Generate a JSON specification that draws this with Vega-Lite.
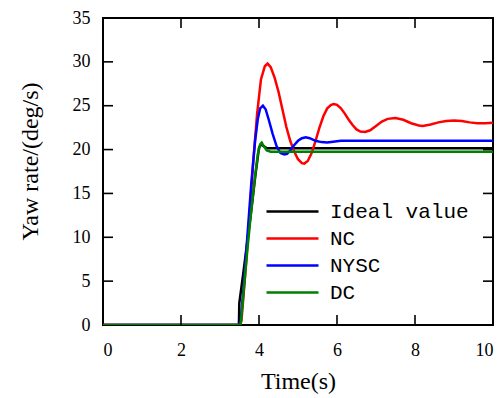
{
  "$schema": "https://vega.github.io/schema/vega-lite/v6.json",
  "width": 390,
  "height": 307,
  "autosize": {"type": "none"},
  "padding": {"left": 103, "top": 18, "right": 9, "bottom": 73},
  "background": "white",
  "config": {
    "view": {"stroke": "black", "strokeWidth": 2},
    "axis": {"domain": false, "ticks": false, "grid": false, "labelColor": "black", "titleColor": "black"}
  },
  "datasets": {
    "xticks": [{"k": 2}, {"k": 4}, {"k": 6}, {"k": 8}],
    "yticks": [{"k": 5}, {"k": 10}, {"k": 15}, {"k": 20}, {"k": 25}, {"k": 30}]
  },
  "data": {"values": [
    {"s": "Ideal value", "t": 0, "v": 0},
    {"s": "Ideal value", "t": 3.485, "v": 0},
    {"s": "Ideal value", "t": 3.495, "v": 2.5},
    {"s": "Ideal value", "t": 3.6, "v": 6},
    {"s": "Ideal value", "t": 3.7, "v": 9.5},
    {"s": "Ideal value", "t": 3.8, "v": 13},
    {"s": "Ideal value", "t": 3.9, "v": 16.8},
    {"s": "Ideal value", "t": 4.0, "v": 20.2},
    {"s": "Ideal value", "t": 4.05, "v": 20.6},
    {"s": "Ideal value", "t": 4.1, "v": 20.45},
    {"s": "Ideal value", "t": 4.2, "v": 20.15},
    {"s": "Ideal value", "t": 10, "v": 20.15},
    {"s": "NC", "t": 0, "v": 0},
    {"s": "NC", "t": 3.5, "v": 0},
    {"s": "NC", "t": 3.55, "v": 0.5},
    {"s": "NC", "t": 3.65, "v": 6},
    {"s": "NC", "t": 3.75, "v": 12},
    {"s": "NC", "t": 3.85, "v": 18.5},
    {"s": "NC", "t": 3.95, "v": 24},
    {"s": "NC", "t": 4.05, "v": 28},
    {"s": "NC", "t": 4.15, "v": 29.5},
    {"s": "NC", "t": 4.22, "v": 29.8},
    {"s": "NC", "t": 4.3, "v": 29.4},
    {"s": "NC", "t": 4.4, "v": 28.2},
    {"s": "NC", "t": 4.5, "v": 26.6},
    {"s": "NC", "t": 4.6, "v": 24.6},
    {"s": "NC", "t": 4.7, "v": 22.6},
    {"s": "NC", "t": 4.8, "v": 21.0},
    {"s": "NC", "t": 4.9, "v": 19.8},
    {"s": "NC", "t": 5.0, "v": 18.9},
    {"s": "NC", "t": 5.1, "v": 18.45},
    {"s": "NC", "t": 5.16, "v": 18.4},
    {"s": "NC", "t": 5.25, "v": 18.7},
    {"s": "NC", "t": 5.35, "v": 19.6},
    {"s": "NC", "t": 5.45, "v": 21.0},
    {"s": "NC", "t": 5.55, "v": 22.5},
    {"s": "NC", "t": 5.65, "v": 23.8},
    {"s": "NC", "t": 5.75, "v": 24.7},
    {"s": "NC", "t": 5.85, "v": 25.1},
    {"s": "NC", "t": 5.92, "v": 25.2},
    {"s": "NC", "t": 6.0, "v": 25.1},
    {"s": "NC", "t": 6.1, "v": 24.7},
    {"s": "NC", "t": 6.2, "v": 24.1},
    {"s": "NC", "t": 6.3, "v": 23.4},
    {"s": "NC", "t": 6.4, "v": 22.8},
    {"s": "NC", "t": 6.5, "v": 22.3},
    {"s": "NC", "t": 6.6, "v": 22.05},
    {"s": "NC", "t": 6.72, "v": 22.0},
    {"s": "NC", "t": 6.85, "v": 22.2},
    {"s": "NC", "t": 7.0, "v": 22.7},
    {"s": "NC", "t": 7.15, "v": 23.2},
    {"s": "NC", "t": 7.3, "v": 23.5},
    {"s": "NC", "t": 7.5, "v": 23.6},
    {"s": "NC", "t": 7.7, "v": 23.4},
    {"s": "NC", "t": 7.9, "v": 23.0},
    {"s": "NC", "t": 8.1, "v": 22.75},
    {"s": "NC", "t": 8.2, "v": 22.7},
    {"s": "NC", "t": 8.4, "v": 22.85},
    {"s": "NC", "t": 8.6, "v": 23.1},
    {"s": "NC", "t": 8.8, "v": 23.25},
    {"s": "NC", "t": 9.0, "v": 23.3},
    {"s": "NC", "t": 9.2, "v": 23.25},
    {"s": "NC", "t": 9.4, "v": 23.1},
    {"s": "NC", "t": 9.6, "v": 23.0},
    {"s": "NC", "t": 9.8, "v": 23.0},
    {"s": "NC", "t": 10, "v": 23.05},
    {"s": "NYSC", "t": 0, "v": 0},
    {"s": "NYSC", "t": 3.52, "v": 0},
    {"s": "NYSC", "t": 3.6, "v": 4},
    {"s": "NYSC", "t": 3.7, "v": 10},
    {"s": "NYSC", "t": 3.8, "v": 16},
    {"s": "NYSC", "t": 3.9, "v": 21},
    {"s": "NYSC", "t": 3.97, "v": 23.5},
    {"s": "NYSC", "t": 4.03, "v": 24.7},
    {"s": "NYSC", "t": 4.1, "v": 25.0},
    {"s": "NYSC", "t": 4.17, "v": 24.6},
    {"s": "NYSC", "t": 4.25, "v": 23.4},
    {"s": "NYSC", "t": 4.35, "v": 21.8},
    {"s": "NYSC", "t": 4.45, "v": 20.4},
    {"s": "NYSC", "t": 4.55, "v": 19.6},
    {"s": "NYSC", "t": 4.65, "v": 19.45},
    {"s": "NYSC", "t": 4.72, "v": 19.5},
    {"s": "NYSC", "t": 4.8, "v": 19.9},
    {"s": "NYSC", "t": 4.9, "v": 20.5},
    {"s": "NYSC", "t": 5.0, "v": 21.0},
    {"s": "NYSC", "t": 5.1, "v": 21.3},
    {"s": "NYSC", "t": 5.2, "v": 21.4},
    {"s": "NYSC", "t": 5.3, "v": 21.3},
    {"s": "NYSC", "t": 5.45, "v": 21.0},
    {"s": "NYSC", "t": 5.6, "v": 20.85},
    {"s": "NYSC", "t": 5.75, "v": 20.8},
    {"s": "NYSC", "t": 5.9, "v": 20.9},
    {"s": "NYSC", "t": 6.1, "v": 21.0},
    {"s": "NYSC", "t": 8, "v": 21.0},
    {"s": "NYSC", "t": 10, "v": 21.0},
    {"s": "DC", "t": 0, "v": 0},
    {"s": "DC", "t": 3.53, "v": 0},
    {"s": "DC", "t": 3.6, "v": 3.5},
    {"s": "DC", "t": 3.7, "v": 8.5},
    {"s": "DC", "t": 3.8, "v": 13},
    {"s": "DC", "t": 3.9, "v": 17},
    {"s": "DC", "t": 3.97, "v": 19.5},
    {"s": "DC", "t": 4.03, "v": 20.6},
    {"s": "DC", "t": 4.07, "v": 20.8},
    {"s": "DC", "t": 4.12, "v": 20.4},
    {"s": "DC", "t": 4.2, "v": 19.9},
    {"s": "DC", "t": 4.3, "v": 19.75},
    {"s": "DC", "t": 6, "v": 19.75},
    {"s": "DC", "t": 10, "v": 19.75}
  ]},
  "layer": [
    {
      "mark": {"type": "line", "strokeWidth": 2.5, "clip": true},
      "encoding": {
        "x": {"field": "t", "type": "quantitative", "scale": {"domain": [0, 10], "nice": false},
          "axis": {"orient": "bottom", "values": [0, 2, 4, 6, 8, 10], "labelPadding": 16, "labelFont": "Liberation Serif", "labelFontSize": 18, "labelBaseline": "top", "title": "Time(s)", "titleFont": "Liberation Serif", "titleFontSize": 24, "titleFontWeight": "normal", "titlePadding": 10}},
        "y": {"field": "v", "type": "quantitative", "scale": {"domain": [0, 35], "nice": false},
          "axis": {"orient": "left", "values": [0, 5, 10, 15, 20, 25, 30, 35], "labelPadding": 13, "labelFont": "Liberation Serif", "labelFontSize": 18, "title": "Yaw rate/(deg/s)", "titleFont": "Liberation Serif", "titleFontSize": 24, "titleFontWeight": "normal", "titlePadding": 30, "titleY": 143}},
        "color": {"field": "s", "type": "nominal",
          "scale": {"domain": ["Ideal value", "NC", "NYSC", "DC"], "range": ["#000000", "#ff0000", "#0000ff", "#008000"]},
          "sort": ["Ideal value", "NC", "NYSC", "DC"],
          "legend": {"title": null, "orient": "none", "legendX": 178, "legendY": 182, "padding": 0, "symbolType": "M-2.6,0H2.6", "symbolSize": 400, "symbolStrokeWidth": 2.5, "labelFont": "Liberation Mono", "labelFontSize": 21, "labelColor": "black", "labelOffset": 26, "rowPadding": 5, "labelLimit": 300}},
        "order": {"field": "t", "type": "quantitative"}
      }
    },
    {
      "data": {"name": "xticks"},
      "mark": {"type": "tick", "orient": "vertical", "size": 20, "thickness": 1.6, "color": "black", "opacity": 1, "clip": true},
      "encoding": {
        "x": {"field": "k", "type": "quantitative"},
        "y": {"datum": 0, "type": "quantitative"}
      }
    },
    {
      "data": {"name": "xticks"},
      "mark": {"type": "tick", "orient": "vertical", "size": 20, "thickness": 1.6, "color": "black", "opacity": 1, "clip": true},
      "encoding": {
        "x": {"field": "k", "type": "quantitative"},
        "y": {"datum": 35, "type": "quantitative"}
      }
    },
    {
      "data": {"name": "yticks"},
      "mark": {"type": "tick", "orient": "horizontal", "size": 20, "thickness": 1.6, "color": "black", "opacity": 1, "clip": true},
      "encoding": {
        "y": {"field": "k", "type": "quantitative"},
        "x": {"datum": 0, "type": "quantitative"}
      }
    },
    {
      "data": {"name": "yticks"},
      "mark": {"type": "tick", "orient": "horizontal", "size": 20, "thickness": 1.6, "color": "black", "opacity": 1, "clip": true},
      "encoding": {
        "y": {"field": "k", "type": "quantitative"},
        "x": {"datum": 10, "type": "quantitative"}
      }
    }
  ]
}
